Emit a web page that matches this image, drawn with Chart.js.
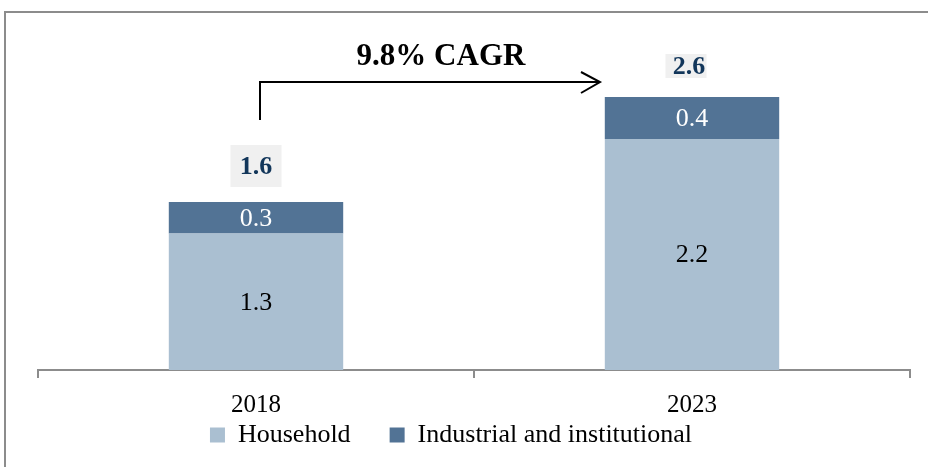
<!DOCTYPE html>
<html>
<head>
<meta charset="utf-8">
<script src="https://cdn.jsdelivr.net/npm/chart.js@4"></script>
<style>
  html, body { margin: 0; padding: 0; background: #ffffff; }
  #wrap { width: 928px; height: 467px; }
</style>
</head>
<body>
<div id="wrap"><canvas id="c" width="928" height="467"></canvas></div>
<script>
// ---- data ----
const categories = ['2018', '2023'];
const household = [1.3, 2.2];
const industrial = [0.3, 0.4];
const totals = [1.6, 2.6];
const seriesNames = ['Household', 'Industrial and institutional'];
const cagrLabel = '9.8% CAGR';

// ---- style ----
const SERIF = '"Liberation Serif", "Times New Roman", serif';
const COL_HOUSE = '#aabfd1';
const COL_IND = '#527395';
const COL_TOTAL = '#12365a';
const LEGEND_CENTER_X = 451;
const LEGEND_MID_Y = 435;
const LEGEND_FONT = 26;
const LEGEND_PAD = 39;
const totalBoxStyle = [
  { w: 51, h: 42, dx: 0, dy: -36, tdx: 0 },
  { w: 41, h: 24, dx: -6, dy: -31, tdx: -3 }
];

const overlay = {
  id: 'overlay',
  afterLayout(chart) {
    const lg = chart.legend;
    if (!lg) return;
    const dx = LEGEND_CENTER_X - (lg.left + lg.right) / 2;
    lg.left += dx; lg.right += dx;
    const itemH = Math.max(LEGEND_FONT, 15);
    const newTop = LEGEND_MID_Y - (LEGEND_PAD + itemH / 2);
    lg.top = newTop;
    lg.height = itemH + LEGEND_PAD + 10;
    lg.bottom = newTop + lg.height;
  },
  afterDatasetsDraw(chart) {
    const ctx = chart.ctx;
    const xs = chart.scales.x, ys = chart.scales.y;
    ctx.save();
    // segment labels
    const segColors = ['#000000', '#ffffff'];
    chart.data.datasets.forEach((ds, di) => {
      const meta = chart.getDatasetMeta(di);
      meta.data.forEach((el, i) => {
        ctx.font = '26px ' + SERIF;
        ctx.fillStyle = segColors[di];
        ctx.textAlign = 'center';
        ctx.textBaseline = 'middle';
        ctx.fillText(ds.data[i].toFixed(1), el.x, (el.y + el.base) / 2 + 1);
      });
    });
    // totals
    totals.forEach((t, i) => {
      const st = totalBoxStyle[i];
      const cx = xs.getPixelForValue(i);
      const cy = ys.getPixelForValue(t) + st.dy;
      ctx.fillStyle = '#f0f0f0';
      ctx.fillRect(cx + st.dx - st.w / 2, cy - st.h / 2, st.w, st.h);
      ctx.font = 'bold 26px ' + SERIF;
      ctx.fillStyle = COL_TOTAL;
      ctx.textAlign = 'center';
      ctx.textBaseline = 'middle';
      ctx.fillText(t.toFixed(1), cx + st.tdx, cy + 1);
    });
    // CAGR arrow
    const x0 = xs.getPixelForValue(0) + 4;
    const x1 = 600;
    const yTop = 82, yBot = 120;
    ctx.strokeStyle = '#000000';
    ctx.lineWidth = 2;
    ctx.beginPath();
    ctx.moveTo(x0, yBot);
    ctx.lineTo(x0, yTop);
    ctx.lineTo(x1, yTop);
    ctx.stroke();
    ctx.beginPath();
    ctx.moveTo(x1 - 19, yTop - 10);
    ctx.lineTo(x1, yTop);
    ctx.lineTo(x1 - 19, yTop + 11);
    ctx.stroke();
    ctx.font = 'bold 31px ' + SERIF;
    ctx.fillStyle = '#000000';
    ctx.textAlign = 'center';
    ctx.textBaseline = 'middle';
    ctx.fillText(cagrLabel, 441, 57);
    // frame
    ctx.strokeStyle = '#8c8c8c';
    ctx.lineWidth = 2;
    ctx.strokeRect(5, 12, 1000, 1000);
    ctx.restore();
  }
};

new Chart(document.getElementById('c'), {
  type: 'bar',
  data: {
    labels: categories,
    datasets: [
      { label: seriesNames[0], data: household, backgroundColor: COL_HOUSE, borderWidth: 0 },
      { label: seriesNames[1], data: industrial, backgroundColor: COL_IND, borderWidth: 0 }
    ]
  },
  options: {
    responsive: false,
    animation: false,
    events: [],
    layout: { padding: { left: 38, right: 18, top: 13, bottom: 15 } },
    datasets: { bar: { barPercentage: 0.4, categoryPercentage: 1.0 } },
    scales: {
      x: {
        stacked: true,
        afterFit(scale) { scale.height = 52; },
        grid: { display: true, offset: true, drawOnChartArea: false, drawTicks: true, tickLength: 8, color: '#8c8c8c', lineWidth: 2 },
        border: { display: true, color: '#8c8c8c', width: 2 },
        ticks: { color: '#000000', font: { family: SERIF, size: 25 }, padding: 12 }
      },
      y: {
        stacked: true,
        display: false,
        min: 0,
        max: 3.4
      }
    },
    plugins: {
      legend: {
        position: 'bottom',
        maxHeight: 30,
        labels: {
          boxWidth: 15, boxHeight: 15,
          padding: LEGEND_PAD,
          color: '#000000',
          font: { family: SERIF, size: LEGEND_FONT }
        }
      },
      tooltip: { enabled: false },
      title: { display: false }
    }
  },
  plugins: [overlay]
});
</script>
</body>
</html>
